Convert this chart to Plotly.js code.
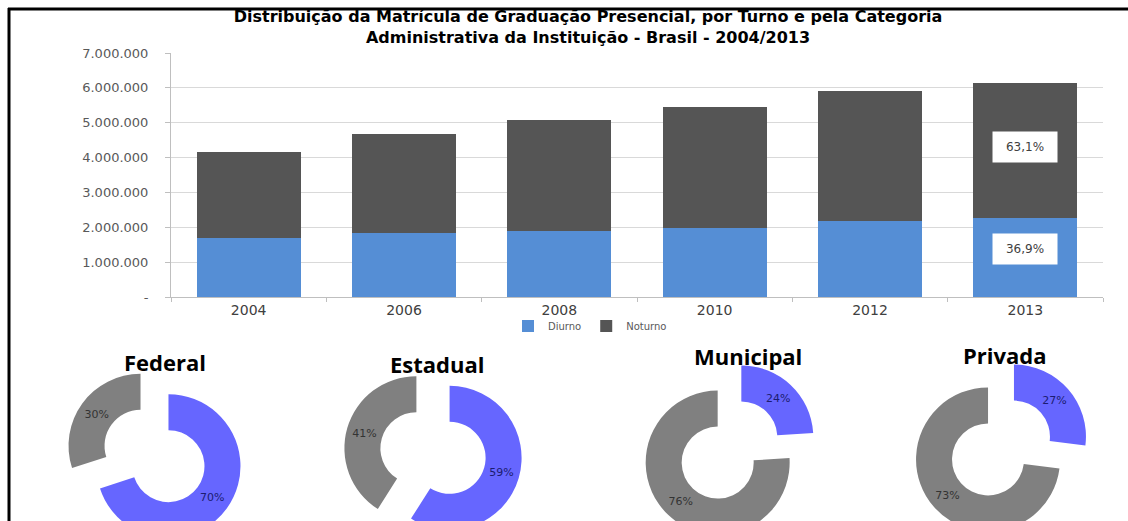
<!DOCTYPE html>
<html>
<head>
<meta charset="utf-8">
<script src="https://cdn.plot.ly/plotly-3.0.1.min.js"></script>
<style>
html,body{margin:0;padding:0;background:#fff;overflow:hidden}
#wrap{width:1128px;height:521px;overflow:hidden;position:relative}
#chart{width:1128px;height:560px}
</style>
</head>
<body>
<div id="wrap"><div id="chart"></div></div>
<script>
// ---- data ----
const years = ['2004','2006','2008','2010','2012','2013'];
const diurno = [1700000, 1840000, 1890000, 1980000, 2180000, 2270000];
const noturno = [2460000, 2840000, 3190000, 3470000, 3740000, 3880000];
const yTickVals = [0,1000000,2000000,3000000,4000000,5000000,6000000,7000000];
const yTickText = ['-','1.000.000','2.000.000','3.000.000','4.000.000','5.000.000','6.000.000','7.000.000'];
const seriesNames = ['Diurno','Noturno'];

const pieNames = ['Federal','Estadual','Municipal','Privada'];
const pieDiurno = [70, 59, 24, 27];
const pieNoturno = [30, 41, 76, 73];

// ---- layout helpers ----
const W = 1128, H = 560;
const px = v => v / W;
const py = v => 1 - v / H;

const BLUE_BAR = '#558ed5', GRAY_BAR = '#555555';
const BLUE_PIE = '#6666ff', GRAY_PIE = '#808080';

const traces = [
  {type:'bar', name:seriesNames[0], x:years, y:diurno, marker:{color:BLUE_BAR}, hoverinfo:'skip'},
  {type:'bar', name:seriesNames[1], x:years, y:noturno, marker:{color:GRAY_BAR}, hoverinfo:'skip'}
];

// pie centers (pixel) and sizes
const pieCenters = [[154.5,456],[433,453],[729.5,450],[1001,448]];
const pieTitlePos = [[165,362],[437,364],[748,356],[1005,355]];
const R = 72, PULL = 0.24, HALF = R*(1+PULL);

pieNames.forEach((n,i)=>{
  const [cx,cy] = pieCenters[i];
  traces.push({
    type:'pie', name:n,
    labels:seriesNames, values:[pieDiurno[i], pieNoturno[i]],
    sort:false, direction:'clockwise', rotation:0,
    hole:0.5, pull:[PULL,PULL],
    marker:{colors:[BLUE_PIE, GRAY_PIE], line:{width:0}},
    textinfo:'percent', textposition:'inside', insidetextorientation:'horizontal',
    textfont:{family:'DejaVu Sans', size:11, color:['#1c1c70','#333333']},
    domain:{x:[px(cx-HALF), px(cx+HALF)], y:[py(cy+HALF), py(cy-HALF)]},
    showlegend:false, hoverinfo:'skip'
  });
});

const annotations = [];
// percentage boxes on 2013 bar
const last = years.length-1;
const tot = diurno[last]+noturno[last];
const fmt = v => (v*100).toFixed(1).replace('.',',') + '%';
annotations.push({xref:'x', yref:'y', x:last, y:diurno[last]+noturno[last]*0.525,
  text:fmt(noturno[last]/tot), showarrow:false, bgcolor:'#ffffff', width:62, height:28,
  font:{family:'DejaVu Sans', size:12, color:'#404040'}});
annotations.push({xref:'x', yref:'y', x:last, y:diurno[last]*0.61,
  text:fmt(diurno[last]/tot), showarrow:false, bgcolor:'#ffffff', width:62, height:28,
  font:{family:'DejaVu Sans', size:12, color:'#404040'}});

pieNames.forEach((n,i)=>{
  annotations.push({xref:'paper', yref:'paper', x:px(pieTitlePos[i][0]), y:py(pieTitlePos[i][1]),
    xanchor:'center', yanchor:'middle', text:'<b>'+n+'</b>', showarrow:false,
    font:{family:'Open Sans', size:22, color:'#000000'}});
});

const layout = {
  width:W, height:H,
  margin:{l:0,r:0,t:0,b:0},
  paper_bgcolor:'#ffffff', plot_bgcolor:'#ffffff',
  barmode:'stack', bargap:0.33,
  title:{text:'<b>Distribuição da Matrícula de Graduação Presencial, por Turno e pela Categoria<br>Administrativa da Instituição - Brasil - 2004/2013</b>',
    x:px(588), xanchor:'center', xref:'paper', y:py(22), yanchor:'top', yref:'container',
    font:{family:'DejaVu Sans', size:16, color:'#000000'}},
  xaxis:{domain:[px(171), px(1103)], type:'category', range:[-0.5,5.5],
    showline:true, linecolor:'#bfbfbf', linewidth:1,
    ticks:'outside', tickson:'boundaries', ticklen:4, tickcolor:'#bfbfbf',
    showgrid:false, tickfont:{family:'DejaVu Sans', size:14, color:'#404040'}, fixedrange:true},
  yaxis:{domain:[py(297), py(53)], range:[0,7000000], tickvals:yTickVals, ticktext:yTickText,
    showline:true, linecolor:'#bfbfbf', linewidth:1, ticks:'outside', ticklen:5, tickcolor:'#bfbfbf',
    showgrid:true, gridcolor:'#d9d9d9', zeroline:false, ticklabelstandoff:14,
    tickfont:{family:'DejaVu Sans', size:13, color:'#595959'}, fixedrange:true},
  legend:{orientation:'h', traceorder:'normal', x:px(590), xanchor:'center', y:py(326), yanchor:'middle',
    font:{family:'DejaVu Sans', size:10, color:'#595959'}, bgcolor:'rgba(0,0,0,0)', itemwidth:30},
  annotations:annotations,
  shapes:[
    {type:'line', xref:'paper', yref:'paper', x0:px(9), x1:px(9), y0:0, y1:py(8), line:{color:'#000', width:3}},
    {type:'line', xref:'paper', yref:'paper', x0:px(8), x1:1, y0:py(9), y1:py(9), line:{color:'#000', width:3}}
  ]
};

Plotly.newPlot('chart', traces, layout, {displayModeBar:false, staticPlot:true});
</script>
</body>
</html>
